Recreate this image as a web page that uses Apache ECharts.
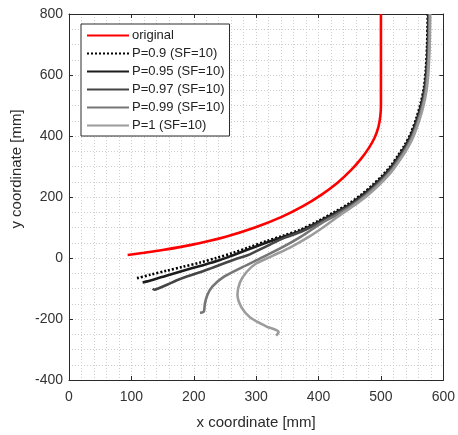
<!DOCTYPE html>
<html>
<head>
<meta charset="utf-8">
<script src="https://cdn.jsdelivr.net/npm/echarts@6/dist/echarts.min.js"></script>
<style>
html,body{margin:0;padding:0;background:#fff;}
#chart{width:458px;height:435px;}
</style>
</head>
<body>
<div id="chart"></div>
<script>
// ---- data (mm) ----
const seriesNames = ['original', 'P=0.9 (SF=10)', 'P=0.95 (SF=10)', 'P=0.97 (SF=10)', 'P=0.99 (SF=10)', 'P=1 (SF=10)'];

const originalX = [94, 120, 150, 196, 250, 298, 340, 375, 405, 430, 452, 468, 481, 490, 496, 499, 500, 500, 500];
const originalY = [10, 17, 26, 43, 69, 100, 134, 170, 208, 246, 288, 325, 362, 395, 430, 465, 500, 600, 800];

const p090X = [109, 130, 156, 182, 210, 236, 263, 290, 316, 343, 370, 400, 425, 450, 470, 487, 502, 515, 527, 538, 548, 557, 564, 569, 572, 574, 575];
const p090Y = [-66, -55, -42, -29, -15, 0, 17, 36, 55, 73, 92, 122, 150, 180, 210, 240, 270, 300, 335, 370, 410, 460, 510, 560, 620, 700, 800];

const p095X = [118, 135, 156, 183, 210, 237, 264, 291, 317, 344, 371, 401, 426, 451, 471, 488, 503, 516, 528, 539, 549, 558, 565, 570, 573, 575, 576];
const p095Y = [-80, -71, -58, -42, -26, -10, 10, 31, 51, 70, 89, 119, 147, 177, 207, 237, 267, 297, 332, 367, 407, 457, 507, 557, 617, 697, 800];

const p097X = [134, 137, 143, 158, 172, 190, 210, 231, 252, 271, 290, 318, 345, 372, 402, 427, 452, 472, 489, 504, 517, 529, 540, 550, 559, 566, 571, 574, 576, 577];
const p097Y = [-101, -104, -100, -87, -74, -60, -47, -31, -15, -1, 12, 40, 66, 86, 116, 144, 174, 204, 234, 264, 294, 329, 364, 404, 454, 504, 554, 614, 694, 800];

const p099X = [210, 216, 217, 218, 222, 230, 248, 275, 305, 340, 372, 403, 428, 453, 473, 490, 505, 518, 530, 541, 551, 560, 567, 572, 575, 577, 578];
const p099Y = [-180, -176, -165, -148, -120, -93, -62, -33, -3, 33, 70, 112, 140, 171, 201, 231, 261, 291, 326, 361, 401, 451, 501, 551, 611, 691, 800];

const p100X = [332, 336, 316, 290, 276, 270, 274, 285, 300, 327, 355, 385, 410, 432, 454, 474, 491, 506, 519, 531, 542, 552, 561, 568, 573, 576, 578, 579];
const p100Y = [-255, -243, -224, -194, -160, -120, -80, -45, -18, 8, 35, 70, 104, 137, 168, 198, 228, 258, 288, 323, 358, 398, 448, 498, 548, 608, 688, 800];

// ---- build ----
const zip = (xs, ys) => xs.map((x, i) => [x, ys[i]]);
const allData = [
  zip(originalX, originalY),
  zip(p090X, p090Y),
  zip(p095X, p095Y),
  zip(p097X, p097Y),
  zip(p099X, p099Y),
  zip(p100X, p100Y)
];
const styles = [
  {color: '#ff0000', width: 2.6, type: 'solid'},
  {color: '#000000', width: 2.6, type: [2, 2]},
  {color: '#1c1c1c', width: 2.6, type: 'solid'},
  {color: '#454545', width: 2.6, type: 'solid'},
  {color: '#767676', width: 2.6, type: 'solid'},
  {color: '#9c9c9c', width: 2.6, type: 'solid'}
];

const FONT = '"Liberation Sans", Arial, Helvetica, sans-serif';
const gridLine = {show: true, lineStyle: {color: '#cfcfcf', width: 1, type: [1, 2]}};
const axisLineStyle = {color: '#2a2a2a', width: 1};

const chart = echarts.init(document.getElementById('chart'), null, {renderer: 'canvas'});
chart.setOption({
  animation: false,
  backgroundColor: '#ffffff',
  textStyle: {fontFamily: FONT},
  grid: {left: 69, right: 14, top: 14, bottom: 49, containLabel: false},
  legend: {
    orient: 'vertical',
    left: 81, top: 24,
    data: seriesNames,
    itemWidth: 42, itemHeight: 14, itemGap: 5,
    padding: [5, 5, 4, 5],
    backgroundColor: '#ffffff',
    borderColor: '#2a2a2a', borderWidth: 1,
    itemStyle: {opacity: 0},
    textStyle: {fontFamily: FONT, fontSize: 13, color: '#222', padding: [0, 0, 0, -2]},
    selectedMode: false
  },
  xAxis: [{
    type: 'value', min: 0, max: 600, interval: 100, position: 'bottom',
    name: 'x coordinate [mm]', nameLocation: 'middle', nameGap: 35,
    nameTextStyle: {fontFamily: FONT, fontSize: 15, color: '#2a2a2a'},
    axisLine: {show: true, onZero: false, lineStyle: axisLineStyle},
    axisTick: {show: true, inside: true, length: 4, lineStyle: axisLineStyle},
    axisLabel: {fontFamily: FONT, fontSize: 14, color: '#333', margin: 10},
    splitLine: gridLine,
    minorTick: {show: false, splitNumber: 5},
    minorSplitLine: gridLine
  }, {
    type: 'value', min: 0, max: 600, interval: 100, position: 'top',
    axisLine: {show: true, onZero: false, lineStyle: axisLineStyle},
    axisTick: {show: true, inside: true, length: 4, lineStyle: axisLineStyle},
    axisLabel: {show: false},
    splitLine: {show: false}
  }],
  yAxis: [{
    type: 'value', min: -400, max: 800, interval: 200, position: 'left',
    name: 'y coordinate [mm]', nameLocation: 'middle', nameGap: 26, nameRotate: 90,
    nameTextStyle: {fontFamily: FONT, fontSize: 15, color: '#2a2a2a', padding: [0, 0, 0, 56]},
    axisLine: {show: true, onZero: false, lineStyle: axisLineStyle},
    axisTick: {show: true, inside: true, length: 4, lineStyle: axisLineStyle},
    axisLabel: {fontFamily: FONT, fontSize: 14, color: '#333', margin: 6},
    splitLine: gridLine,
    minorTick: {show: false, splitNumber: 4},
    minorSplitLine: gridLine
  }, {
    type: 'value', min: -400, max: 800, interval: 200, position: 'right',
    axisLine: {show: true, onZero: false, lineStyle: axisLineStyle},
    axisTick: {show: true, inside: true, length: 4, lineStyle: axisLineStyle},
    axisLabel: {show: false},
    splitLine: {show: false}
  }],
  series: seriesNames.map((name, i) => ({
    name: name,
    type: 'line',
    xAxisIndex: 0, yAxisIndex: 0,
    data: allData[i],
    showSymbol: false,
    symbol: 'none',
    smooth: 0.3,
    color: styles[i].color,
    lineStyle: {color: styles[i].color, width: styles[i].width, type: styles[i].type, cap: 'butt'},
    z: 2 + i
  }))
});
</script>
</body>
</html>
